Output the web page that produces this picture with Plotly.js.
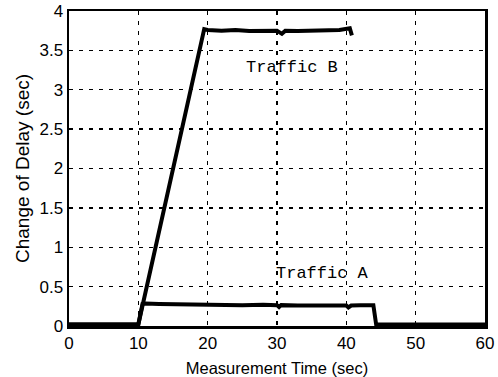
<!DOCTYPE html>
<html>
<head>
<meta charset="utf-8">
<script src="https://cdn.plot.ly/plotly-3.0.1.min.js"></script>
<style>html,body{margin:0;padding:0;background:#fff;}#chart{width:498px;height:377px;}</style>
</head>
<body>
<div id="chart"></div>
<script>
// Traffic A: measurement time (sec) and change of delay (sec)
var trafficA_x = [0, 5, 10, 10.6, 11, 13, 16, 19, 20, 22, 25, 28, 30, 30.3, 30.6, 33, 36, 38, 40, 40.3, 40.7, 42, 43.9, 44.3, 50, 60];
var trafficA_y = [0.02, 0.02, 0.02, 0.28, 0.285, 0.28, 0.275, 0.27, 0.27, 0.27, 0.265, 0.27, 0.265, 0.24, 0.265, 0.26, 0.265, 0.26, 0.26, 0.235, 0.26, 0.265, 0.265, 0.02, 0.02, 0.02];
// Traffic B
var trafficB_x = [0, 5, 10, 19.5, 20, 22, 24, 26, 28, 30, 30.7, 31.2, 33, 35, 37, 39, 40.5, 40.8];
var trafficB_y = [0.02, 0.02, 0.02, 3.77, 3.76, 3.75, 3.76, 3.745, 3.75, 3.75, 3.71, 3.75, 3.745, 3.75, 3.755, 3.76, 3.78, 3.69];
// Labels
var labelTexts = ["Traffic B", "Traffic A"];
var labelX = [32.2, 36.5];
var labelY = [3.28, 0.67];
var xTicks = [0, 10, 20, 30, 40, 50, 60];
var yTicks = [0, 0.5, 1, 1.5, 2, 2.5, 3, 3.5, 4];

var lineStyle = {color: '#000', width: 4};
var traces = [
  {x: trafficA_x, y: trafficA_y, mode: 'lines', line: lineStyle, name: 'Traffic A'},
  {x: trafficB_x, y: trafficB_y, mode: 'lines', line: lineStyle, name: 'Traffic B'}
];

var annotations = labelTexts.map(function(t, i) {
  return {x: labelX[i], y: labelY[i], xref: 'x', yref: 'y', text: t, showarrow: false,
          font: {family: 'Liberation Mono, Courier New, monospace', size: 17, color: '#000'}};
});

var axisCommon = {
  showline: true, linecolor: '#000', linewidth: 2.5, mirror: true,
  showgrid: true, gridcolor: '#000', gridwidth: 1.3, griddash: '4px,6px',
  zeroline: false, ticks: '',
  tickfont: {family: 'Liberation Sans, Arial, sans-serif', size: 17, color: '#000'}
};

var layout = {
  width: 498, height: 377,
  margin: {l: 69, r: 13, t: 11, b: 51, pad: 0},
  paper_bgcolor: '#fff', plot_bgcolor: '#fff',
  showlegend: false,
  xaxis: Object.assign({}, axisCommon, {
    range: [0, 60], tickvals: xTicks, ticktext: xTicks.map(String),
    title: {text: 'Measurement Time (sec)', standoff: 14,
            font: {family: 'Liberation Sans, Arial, sans-serif', size: 16.5, color: '#000'}}
  }),
  yaxis: Object.assign({}, axisCommon, {
    range: [0, 4], tickvals: yTicks, ticktext: yTicks.map(String),
    title: {text: 'Change of Delay (sec)', standoff: 5,
            font: {family: 'Liberation Sans, Arial, sans-serif', size: 19, color: '#000'}}
  }),
  annotations: annotations
};

Plotly.newPlot('chart', traces, layout, {displayModeBar: false, staticPlot: true});
</script>
</body>
</html>
